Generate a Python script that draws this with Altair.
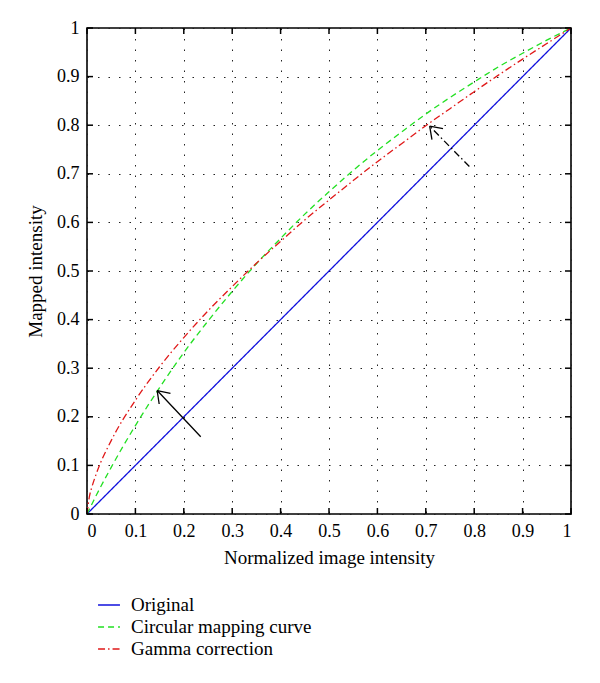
import altair as alt
import pandas as pd
import numpy as np

# ---- data ----
orig_x = [0.0, 1.0]
orig_y = [0.0, 1.0]

curve_x = [0.0, 0.005, 0.01, 0.02, 0.05, 0.1, 0.15, 0.2, 0.25, 0.3, 0.35, 0.4, 0.45,
           0.5, 0.55, 0.6, 0.65, 0.7, 0.75, 0.8, 0.85, 0.9, 0.95, 1.0]
circular_y = [0.0, 0.010, 0.020, 0.040, 0.096, 0.182, 0.260, 0.332, 0.397, 0.458, 0.515,
              0.567, 0.617, 0.663, 0.707, 0.748, 0.786, 0.823, 0.857, 0.889, 0.920,
              0.948, 0.975, 1.0]
gamma_y = [0.0, 0.036, 0.055, 0.085, 0.151, 0.234, 0.303, 0.363, 0.418, 0.468, 0.516,
           0.561, 0.605, 0.646, 0.686, 0.725, 0.762, 0.799, 0.834, 0.869, 0.903,
           0.936, 0.968, 1.0]

series_names = ["Original", "Circular mapping curve", "Gamma correction"]
series_colors = ["#1010dd", "#22e022", "#e01818"]
series_dash = [[1, 0], [6, 4], [7, 3, 1.5, 3]]

tick_vals = [0, 0.1, 0.2, 0.3, 0.4, 0.5, 0.6, 0.7, 0.8, 0.9, 1]

# annotation arrows: (tail x, tail y, head x, head y)
arrow_solid = [0.235, 0.159, 0.145, 0.254]
arrow_dashdot = [0.79, 0.715, 0.708, 0.798]

W, H = 484, 486
FONT = "Liberation Serif"

rows = []
for x, y in zip(orig_x, orig_y):
    rows.append({"x": x, "y": y, "series": series_names[0]})
for x, y in zip(curve_x, circular_y):
    rows.append({"x": x, "y": y, "series": series_names[1]})
for x, y in zip(curve_x, gamma_y):
    rows.append({"x": x, "y": y, "series": series_names[2]})
df = pd.DataFrame(rows)

xscale = alt.Scale(domain=[0, 1], nice=False, zero=False)
yscale = alt.Scale(domain=[0, 1], nice=False, zero=False)

lines = alt.Chart(df).mark_line(strokeWidth=1.3, clip=True, interpolate="monotone").encode(
    x=alt.X("x:Q", scale=xscale,
            axis=alt.Axis(values=tick_vals, format="~g", title="Normalized image intensity",
                          grid=True, ticks=False, tickSize=0, domain=False,
                          labelPadding=8, titlePadding=8)),
    y=alt.Y("y:Q", scale=yscale,
            axis=alt.Axis(values=tick_vals, format="~g", title="Mapped intensity",
                          grid=True, ticks=False, tickSize=0, domain=False,
                          labelPadding=8, titlePadding=11)),
    color=alt.Color("series:N", scale=alt.Scale(domain=series_names, range=series_colors),
                    sort=series_names,
                    legend=alt.Legend(title=None, orient="none", legendX=10, legendY=565,
                                      direction="vertical", symbolType="stroke",
                                      symbolSize=480, symbolStrokeWidth=1.3,
                                      labelFont=FONT, labelFontSize=19, labelColor="black",
                                      labelOffset=10, rowPadding=0, labelLimit=400)),
    strokeDash=alt.StrokeDash("series:N", scale=alt.Scale(domain=series_names, range=series_dash),
                              sort=series_names, legend=None),
)

# arrows
def arrow_df(a):
    tx, ty, hx, hy = a
    d = np.array([tx - hx, ty - hy])
    d = d / np.linalg.norm(d)
    L = 0.028
    segs = [{"x": tx, "y": ty, "x2": hx, "y2": hy, "part": "shaft"}]
    for ang in (np.radians(35), -np.radians(35)):
        r = np.array([d[0] * np.cos(ang) - d[1] * np.sin(ang),
                      d[0] * np.sin(ang) + d[1] * np.cos(ang)])
        segs.append({"x": hx, "y": hy, "x2": hx + L * r[0], "y2": hy + L * r[1], "part": "head"})
    return pd.DataFrame(segs)

a1 = arrow_df(arrow_solid)
a2 = arrow_df(arrow_dashdot)

arrow1 = alt.Chart(a1).mark_rule(color="black", strokeWidth=1.3).encode(
    x=alt.X("x:Q", scale=xscale), y=alt.Y("y:Q", scale=yscale), x2="x2:Q", y2="y2:Q")
arrow2_shaft = alt.Chart(a2[a2.part == "shaft"]).mark_rule(
    color="black", strokeWidth=1.3, strokeDash=[7, 3, 1.5, 3]).encode(
    x=alt.X("x:Q", scale=xscale), y=alt.Y("y:Q", scale=yscale), x2="x2:Q", y2="y2:Q")
arrow2_head = alt.Chart(a2[a2.part == "head"]).mark_rule(color="black", strokeWidth=1.3).encode(
    x=alt.X("x:Q", scale=xscale), y=alt.Y("y:Q", scale=yscale), x2="x2:Q", y2="y2:Q")

# inward ticks on all four sides
tdf = pd.DataFrame({"t": tick_vals})
TL = 6
tick_b = alt.Chart(tdf).mark_rule(color="black", strokeWidth=1.5).encode(
    x=alt.X("t:Q", scale=xscale), y=alt.value(H), y2=alt.value(H - TL))
tick_t = alt.Chart(tdf).mark_rule(color="black", strokeWidth=1.5).encode(
    x=alt.X("t:Q", scale=xscale), y=alt.value(0), y2=alt.value(TL))
tick_l = alt.Chart(tdf).mark_rule(color="black", strokeWidth=1.5).encode(
    y=alt.Y("t:Q", scale=yscale), x=alt.value(0), x2=alt.value(TL))
tick_r = alt.Chart(tdf).mark_rule(color="black", strokeWidth=1.5).encode(
    y=alt.Y("t:Q", scale=yscale), x=alt.value(W), x2=alt.value(W - TL))

chart = alt.layer(lines, arrow1, arrow2_shaft, arrow2_head, tick_b, tick_t, tick_l, tick_r).properties(
    width=W, height=H,
    autosize=alt.AutoSizeParams(type="none"),
    padding={"left": 79, "top": 20, "right": 20, "bottom": 160},
    background="white",
).configure_view(
    stroke="black", strokeWidth=1.6
).configure_axis(
    gridColor="#222222", gridDash=[1.5, 9], gridOpacity=1, gridWidth=1,
    labelFont=FONT, labelFontSize=18, labelColor="black",
    titleFont=FONT, titleFontSize=19, titleFontWeight="normal", titleColor="black",
)

chart.save("out.html", embed_options={"renderer": "svg", "actions": False})
